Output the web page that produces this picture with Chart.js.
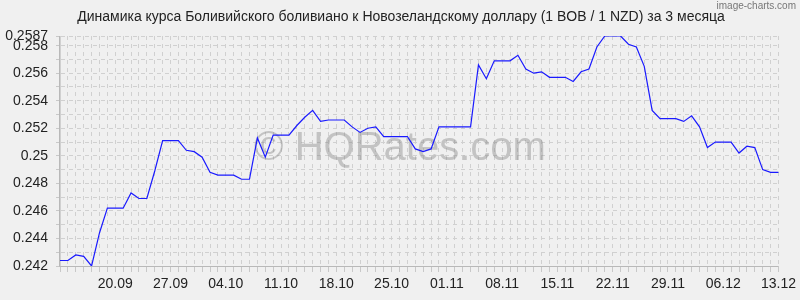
<!DOCTYPE html>
<html>
<head>
<meta charset="utf-8">
<script src="https://cdn.jsdelivr.net/npm/chart.js@4/dist/chart.umd.min.js"></script>
<style>
html,body{margin:0;padding:0;background:#f0f0f0;}
#wrap{width:800px;height:300px;}
</style>
</head>
<body>
<div id="wrap"><canvas id="c" width="800" height="300"></canvas></div>
<script>
const titleText = 'Динамика курса Боливийского боливиано к Новозеландскому доллару (1 BOB / 1 NZD) за 3 месяца';

const dates = [
 '13.09','14.09','15.09','16.09','17.09','18.09','19.09','20.09','21.09','22.09','23.09','24.09','25.09','26.09','27.09','28.09','29.09','30.09',
 '01.10','02.10','03.10','04.10','05.10','06.10','07.10','08.10','09.10','10.10','11.10','12.10','13.10','14.10','15.10','16.10','17.10','18.10','19.10','20.10','21.10','22.10','23.10','24.10','25.10','26.10','27.10','28.10','29.10','30.10','31.10',
 '01.11','02.11','03.11','04.11','05.11','06.11','07.11','08.11','09.11','10.11','11.11','12.11','13.11','14.11','15.11','16.11','17.11','18.11','19.11','20.11','21.11','22.11','23.11','24.11','25.11','26.11','27.11','28.11','29.11','30.11',
 '01.12','02.12','03.12','04.12','05.12','06.12','07.12','08.12','09.12','10.12','11.12','12.12','13.12'
];

const rates = [
 0.2424,0.2424,0.2428,0.2427,0.2420,0.2444,0.2462,0.2462,0.2462,0.2473,
 0.2469,0.2469,0.2489,0.2511,0.2511,0.2511,0.2504,0.2503,0.2499,0.2488,
 0.2486,0.2486,0.2486,0.2483,0.2483,0.2513,0.2499,0.2515,0.2515,0.2515,
 0.2522,0.2528,0.2533,0.2525,0.2526,0.2526,0.2526,0.2521,0.2517,0.2520,
 0.2521,0.2514,0.2514,0.2514,0.2514,0.2505,0.2503,0.2505,0.2521,0.2521,
 0.2521,0.2521,0.2521,0.2566,0.2556,0.2569,0.2569,0.2569,0.2573,0.2563,
 0.2560,0.2561,0.2557,0.2557,0.2557,0.2554,0.2561,0.2563,0.2579,0.2587,
 0.2587,0.2587,0.2581,0.2579,0.2565,0.2533,0.2527,0.2527,0.2527,0.2525,
 0.2529,0.2521,0.2506,0.2510,0.2510,0.2510,0.2502,0.2507,0.2506,0.2490,
 0.2488,0.2488
];

const xTickLabels = ['20.09','27.09','04.10','11.10','18.10','25.10','01.11','08.11','15.11','22.11','29.11','06.12','13.12'];
const yTickValues = [0.242,0.244,0.246,0.248,0.25,0.252,0.254,0.256,0.258,0.2587];
const yGridValues = [0.242,0.243,0.244,0.245,0.246,0.247,0.248,0.249,0.25,0.251,0.252,0.253,0.254,0.255,0.256,0.257,0.258,0.2587];
const yMin = 0.242, yMax = 0.2587;

const FONT = '"Liberation Sans", Arial, sans-serif';

const bgPlugin = {
  id: 'bg',
  beforeDraw(chart) {
    const ctx = chart.ctx;
    ctx.save();
    ctx.fillStyle = '#f0f0f0';
    ctx.fillRect(0, 0, chart.width, chart.height);
    ctx.font = '14px ' + FONT;
    ctx.fillStyle = '#222';
    ctx.textAlign = 'center';
    ctx.textBaseline = 'middle';
    ctx.fillText(titleText, 401, 17);
    ctx.restore();
  },
  beforeDatasetsDraw(chart) {
    const ctx = chart.ctx;
    const a = chart.chartArea;
    ctx.save();
    ctx.strokeStyle = '#b8b8b8';
    ctx.lineWidth = 1;
    ctx.setLineDash([]);
    ctx.beginPath();
    ctx.moveTo(Math.round(a.left) - 0.5, a.top);
    ctx.lineTo(Math.round(a.left) - 0.5, a.bottom + 0.5);
    ctx.lineTo(a.right, a.bottom + 0.5);
    ctx.stroke();
    ctx.font = '40px ' + FONT;
    ctx.fillStyle = 'rgba(128,128,128,0.4)';
    ctx.textAlign = 'center';
    ctx.textBaseline = 'alphabetic';
    ctx.fillText('© HQRates.com', 400, 160);
    ctx.restore();
  },
  afterDraw(chart) {
    const ctx = chart.ctx;
    ctx.save();
    ctx.font = '10px ' + FONT;
    ctx.fillStyle = '#777';
    ctx.textAlign = 'right';
    ctx.textBaseline = 'top';
    ctx.fillText('image-charts.com', 796, 1);
    ctx.restore();
  }
};

new Chart(document.getElementById('c'), {
  type: 'line',
  data: {
    labels: dates,
    datasets: [{
      data: rates,
      borderColor: '#1a1aff',
      borderWidth: 1.2,
      pointRadius: 0,
      fill: false,
      tension: 0
    }]
  },
  options: {
    responsive: false,
    animation: false,
    devicePixelRatio: 1,
    layout: { padding: { left: 0, right: 20, top: 36, bottom: 0 } },
    plugins: {
      legend: { display: false },
      tooltip: { enabled: false },
      title: { display: false }
    },
    scales: {
      x: {
        type: 'category',
        offset: false,
        grid: {
          display: true,
          color: '#d0d0d0',
          tickBorderDash: [],
          tickLength: 6,
          tickColor: '#c8c8c8',
          drawOnChartArea: true
        },
        border: { display: true, color: '#d0d0d0', dash: [4, 4] },
        ticks: {
          autoSkip: false,
          maxRotation: 0,
          minRotation: 0,
          padding: 4,
          color: '#222',
          font: { family: FONT, size: 14 },
          callback: function(v, i) {
            const l = dates[i];
            return xTickLabels.includes(l) ? l : '';
          }
        },
        afterFit(s) { s.height = 34; }
      },
      y: {
        type: 'linear',
        min: yMin,
        max: yMax,
        grid: {
          color: '#d0d0d0',
          tickBorderDash: [],
          tickLength: 4,
          tickColor: '#c8c8c8'
        },
        border: { display: true, color: '#d0d0d0', dash: [4, 4] },
        afterBuildTicks(axis) {
          axis.ticks = yGridValues.map(v => ({ value: v }));
        },
        ticks: {
          autoSkip: false,
          padding: 8,
          color: '#222',
          font: { family: FONT, size: 14 },
          callback: function(v) {
            const hit = yTickValues.find(t => Math.abs(t - v) < 1e-7);
            return hit === undefined ? '' : String(hit);
          }
        },
        afterFit(s) { s.width = 60; }
      }
    }
  },
  plugins: [bgPlugin]
});
</script>
</body>
</html>
